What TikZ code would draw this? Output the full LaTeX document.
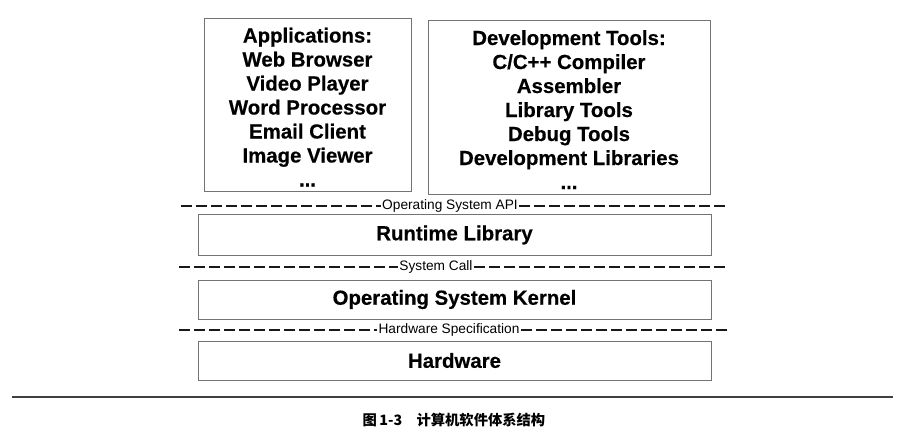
\documentclass[tikz,border=0pt]{standalone}
\usepackage{fontspec}
\setmainfont{Liberation Sans}[BoldFeatures={FakeBold=0.4}]
\newfontfamily\cjkfont{Noto Sans CJK SC}
\newcommand\topstrut{\rule{0pt}{20pt}}
\begin{document}
\begin{tikzpicture}[x=1pt,y=-1pt,
  layer/.style={draw=black!55, line width=0.9pt, inner sep=0pt, align=center,
    font=\fontsize{20.4}{24}\selectfont\bfseries},
  sepline/.style={line width=2.8pt, dash pattern=on 11pt off 4pt, black!90},
  seplabel/.style={inner sep=1.5pt, font=\fontsize{13.7}{15}\selectfont},
]
\useasboundingbox (0,0) rectangle (905,445);

% upper layer: applications and development tools
\node[layer, minimum width=207pt, minimum height=173pt] (apps) at (307.5,104.5)
  {\topstrut Applications:\\Web Browser\\Video Player\\Word Processor\\Email Client\\Image Viewer\\...};
\node[layer, minimum width=282pt, minimum height=174pt] (devtools) at (569,107)
  {\topstrut Development Tools:\\C/C++ Compiler\\Assembler\\Library Tools\\Debug Tools\\Development Libraries\\...};

% interface: operating system API
\coordinate (api-l) at (181,206);
\coordinate (api-r) at (729,206);
\node[seplabel] (api) at (450,206) {Operating System API};
\draw[sepline] (api-l) -- (api.west);
\draw[sepline] (api.east) -- (api-r);

% runtime library
\node[layer, minimum width=513pt, minimum height=41pt] (runtime) at (454.5,235) {Runtime Library};

% interface: system call
\coordinate (sys-l) at (179,267);
\coordinate (sys-r) at (729,267);
\node[seplabel] (syscall) at (436,267) {System Call};
\draw[sepline] (sys-l) -- (syscall.west);
\draw[sepline] (syscall.east) -- (sys-r);

% kernel
\node[layer, minimum width=513pt, minimum height=39pt] (kernel) at (454.5,299.5) {Operating System Kernel};

% interface: hardware specification
\coordinate (hw-l) at (179,330);
\coordinate (hw-r) at (729,330);
\node[seplabel] (hwspec) at (449,330) {Hardware Specification};
\draw[sepline] (hw-l) -- (hwspec.west);
\draw[sepline] (hwspec.east) -- (hw-r);

% hardware
\node[layer, minimum width=513pt, minimum height=39pt] (hardware) at (454.5,360.5) {Hardware};

% rule and caption
\coordinate (rule-l) at (12,397);
\coordinate (rule-r) at (893,397);
\draw[line width=1.3pt, black!75] (rule-l) -- (rule-r);
\node[font=\cjkfont\bfseries\fontsize{14.3}{16}\selectfont] (caption) at (454,420)
  {图\,1-3\quad 计算机软件体系结构};
\end{tikzpicture}
\end{document}
